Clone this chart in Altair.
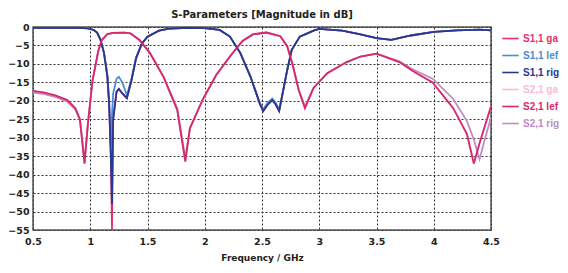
import altair as alt
import pandas as pd

# ---- data ----
series_names = ["S1,1 ga", "S1,1 lef", "S1,1 rig", "S2,1 ga", "S2,1 lef", "S2,1 rig"]
series_colors = ["#e6306e", "#4a8ed4", "#28388f", "#f7bcd9", "#d9286a", "#c08ac6"]

freq11 = [0.5, 0.7, 0.9, 0.98, 1.03, 1.06, 1.09, 1.12, 1.15, 1.165, 1.18, 1.19, 1.2,
          1.23, 1.25, 1.28, 1.32, 1.36, 1.4, 1.45, 1.5, 1.6, 1.7, 1.85, 2.0, 2.13,
          2.22, 2.31, 2.4, 2.48, 2.51, 2.55, 2.59, 2.62, 2.65, 2.68, 2.72, 2.76,
          2.83, 2.95, 3.0, 3.2, 3.36, 3.5, 3.63, 3.8, 4.0, 4.2, 4.4, 4.5]
s11_right = [-0.2, -0.2, -0.2, -0.4, -0.8, -1.5, -3.5, -7.0, -13.5, -21.0, -35.0, -48.0, -25.0,
             -17.5, -16.8, -18.0, -19.3, -14.5, -8.5, -4.5, -2.6, -1.0, -0.4, -0.2, -0.3, -0.8,
             -2.6, -7.0, -13.5, -20.7, -22.8, -21.0, -19.8, -21.0, -22.8, -18.0, -11.7, -6.2,
             -2.6, -1.0, -0.5, -1.0, -2.0, -3.0, -3.5, -2.3, -1.3, -0.9, -0.7, -0.9]
s11_left = [-0.2, -0.2, -0.2, -0.4, -0.8, -1.5, -3.5, -7.0, -13.0, -20.0, -32.0, -24.0, -18.0,
            -14.0, -13.5, -15.0, -18.5, -14.0, -8.3, -4.5, -2.6, -1.0, -0.4, -0.2, -0.3, -0.8,
            -2.6, -7.0, -13.5, -20.5, -22.3, -20.5, -19.4, -20.5, -22.3, -18.0, -11.7, -6.2,
            -2.6, -1.0, -0.5, -1.0, -2.0, -3.0, -3.5, -2.3, -1.3, -0.9, -0.7, -0.9]
s11_gap = [-0.2, -0.2, -0.2, -0.4, -0.8, -1.5, -3.5, -7.0, -13.5, -21.0, -35.0, -55.0, -25.0,
           -17.5, -16.8, -18.0, -19.3, -14.5, -8.5, -4.5, -2.6, -1.0, -0.4, -0.2, -0.3, -0.8,
           -2.6, -7.0, -13.5, -20.7, -22.8, -21.0, -19.8, -21.0, -22.8, -18.0, -11.7, -6.2,
           -2.6, -1.0, -0.5, -1.0, -2.0, -3.0, -3.5, -2.3, -1.3, -0.9, -0.7, -0.9]

freq21 = [0.5, 0.6, 0.7, 0.8, 0.87, 0.91, 0.95, 0.98, 1.02, 1.07, 1.1, 1.15, 1.2, 1.3,
          1.35, 1.43, 1.52, 1.64, 1.76, 1.83, 1.87, 1.98, 2.1, 2.22, 2.33, 2.42, 2.54,
          2.66, 2.72, 2.77, 2.82, 2.875, 2.95, 3.07, 3.24, 3.36, 3.5, 3.7, 3.82, 3.99,
          4.17, 4.29, 4.35, 4.4, 4.45, 4.5]
s21_left = [-17.3, -17.8, -18.6, -19.8, -22.0, -25.0, -37.0, -26.0, -14.5, -6.5, -3.6, -1.9,
            -1.6, -1.5, -1.7, -3.5, -7.0, -13.5, -22.5, -36.5, -27.5, -19.8, -13.0, -8.0,
            -3.8, -2.0, -1.5, -2.5, -5.2, -10.5, -17.0, -22.0, -16.5, -12.5, -9.5, -8.0,
            -7.2, -9.5, -12.0, -15.0, -22.0, -29.0, -37.0, -31.5, -26.5, -21.5]
s21_right = [-17.8, -18.2, -19.0, -20.2, -22.4, -25.4, -36.5, -26.0, -14.5, -6.5, -3.6, -1.9,
             -1.6, -1.5, -1.7, -3.5, -7.0, -13.5, -22.0, -35.5, -27.5, -19.8, -13.0, -8.0,
             -3.8, -2.0, -1.5, -2.5, -5.2, -10.5, -17.0, -21.5, -16.5, -12.5, -9.5, -8.0,
             -7.2, -9.3, -11.5, -14.0, -19.5, -25.5, -30.5, -35.8, -30.0, -24.5]
s21_gap = [-17.3, -17.8, -18.6, -19.8, -22.0, -25.0, -37.0, -26.0, -14.5, -6.5, -3.6, -1.9,
           -1.6, -1.5, -1.7, -3.5, -7.0, -13.5, -22.5, -36.5, -27.5, -19.8, -13.0, -8.0,
           -3.8, -2.0, -1.5, -2.5, -5.2, -10.5, -17.0, -22.0, -16.5, -12.5, -9.5, -8.0,
           -7.2, -9.5, -12.0, -15.0, -22.0, -29.0, -37.0, -31.5, -26.5, -21.5]

x_ticks = [0.5, 1, 1.5, 2, 2.5, 3, 3.5, 4, 4.5]
y_ticks = [0, -5, -10, -15, -20, -25, -30, -35, -40, -45, -50, -55]

# drawing order (bottom to top)
draw = [
    ("S1,1 ga", freq11, s11_gap),
    ("S2,1 ga", freq21, s21_gap),
    ("S2,1 rig", freq21, s21_right),
    ("S1,1 lef", freq11, s11_left),
    ("S1,1 rig", freq11, s11_right),
    ("S2,1 lef", freq21, s21_left),
]
rows = []
for order, (name, fx, fy) in enumerate(draw):
    for f, v in zip(fx, fy):
        rows.append({"series": name, "freq": f, "db": v, "ord": order})
df = pd.DataFrame(rows)

label_expr = " : ".join(
    f"datum.value == '{n}' ? '{c}'" for n, c in zip(series_names, series_colors)
) + " : '#000'"

FONT = "DejaVu Sans"
GRID = dict(grid=True, gridColor="#333", gridDash=[2, 2], gridWidth=1, gridOpacity=1)

chart = alt.Chart(df).mark_line(strokeWidth=1.8, clip=True).encode(
    x=alt.X("freq:Q",
            scale=alt.Scale(domain=[0.5, 4.5], nice=False, zero=False),
            axis=alt.Axis(values=x_ticks, title="Frequency / GHz",
                          format="~g", ticks=False, labelPadding=6, titlePadding=8,
                          domain=False, labelFlush=False, **GRID)),
    y=alt.Y("db:Q",
            scale=alt.Scale(domain=[-55, 0], nice=False, zero=False),
            axis=alt.Axis(values=y_ticks, title=None, ticks=False, labelPadding=4,
                          domain=False, format="~g", **GRID)),
    color=alt.Color("series:N",
                    scale=alt.Scale(domain=series_names, range=series_colors),
                    legend=alt.Legend(title=None, orient="none", legendX=468, legendY=2,
                                      symbolType="stroke", symbolSize=270,
                                      symbolStrokeWidth=1.6, rowPadding=2,
                                      labelFont="Liberation Sans", labelFontSize=10,
                                      labelFontWeight="bold", labelOffset=3,
                                      labelColor={"expr": label_expr})),
    detail="ord:O",
    order="ord:Q",
).properties(
    width=458,
    height=203,
    autosize="none",
    padding={"left": 25, "top": 19, "right": 69, "bottom": 35},
    title=alt.TitleParams("S-Parameters [Magnitude in dB]", fontSize=10, font=FONT,
                          fontWeight="bold", color="#222", offset=2),
).configure_axis(
    labelFont=FONT, labelFontSize=9.5, labelFontWeight="bold", labelColor="#222",
    titleFont=FONT, titleFontSize=9, titleFontWeight="bold", titleColor="#222",
).configure_view(
    stroke="#555", strokeWidth=1.5,
)

chart.save("out.html", embed_options={"renderer": "svg", "actions": False})
